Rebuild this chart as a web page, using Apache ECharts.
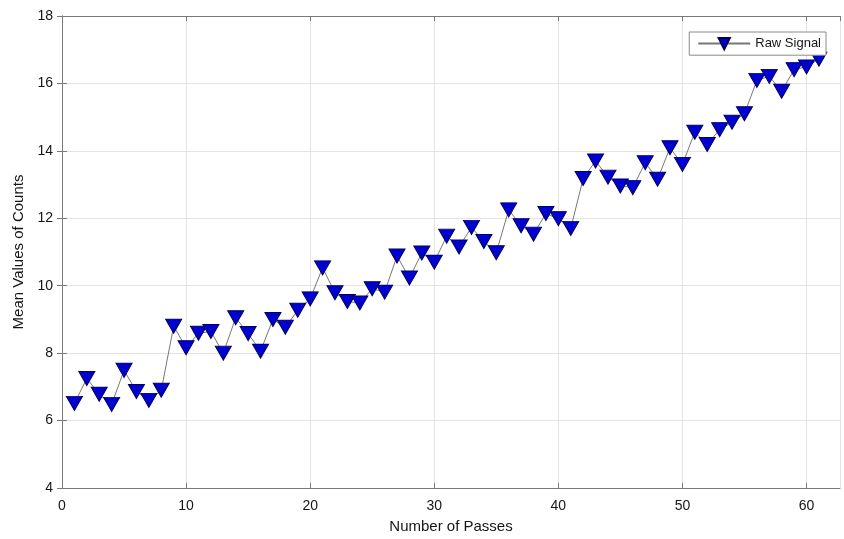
<!DOCTYPE html>
<html>
<head>
<meta charset="utf-8">
<script src="https://cdn.jsdelivr.net/npm/echarts@6/dist/echarts.min.js"></script>
<style>
html,body{margin:0;padding:0;background:#fff;}
#chart{width:844px;height:539px;}
</style>
</head>
<body>
<div id="chart"></div>
<script>
const passes = [1,2,3,4,5,6,7,8,9,10,11,12,13,14,15,16,17,18,19,20,21,22,23,24,25,26,27,28,29,30,31,32,33,34,35,36,37,38,39,40,41,42,43,44,45,46,47,48,49,50,51,52,53,54,55,56,57,58,59,60,61];
const rawSignal = [6.51,7.25,6.78,6.48,7.49,6.86,6.6,6.9,8.8,8.16,
  8.59,8.64,8.0,9.05,8.58,8.06,9.0,8.77,9.27,9.61,
  10.53,9.79,9.53,9.49,9.91,9.81,10.88,10.23,10.97,10.7,
  11.47,11.15,11.73,11.31,10.98,12.25,11.78,11.53,12.14,11.99,
  11.7,13.18,13.7,13.22,12.96,12.91,13.65,13.16,14.09,13.6,
  14.55,14.19,14.63,14.85,15.1,16.09,16.21,15.77,16.41,16.49,16.72];
const seriesName = 'Raw Signal';
const xTitle = 'Number of Passes';
const yTitle = 'Mean Values of Counts';

const chart = echarts.init(document.getElementById('chart'), null, {renderer:'canvas'});
const font = 'Liberation Sans, Arial, sans-serif';
const frame = '#7a7a7a';
const gridCol = '#e3e3e3';
const textCol = '#151515';
const axisCommon = {
  axisLine:{show:true,lineStyle:{color:frame,width:1}},
  axisTick:{show:true,inside:true,length:5,lineStyle:{color:frame}},
};
chart.setOption({
  animation:false,
  backgroundColor:'#fff',
  grid:{left:62,right:4,top:16,bottom:49,containLabel:false},
  legend:{
    data:[seriesName],
    right:18, top:32,
    backgroundColor:'#fff',
    borderColor:'#8a8a8a', borderWidth:1, borderRadius:0,
    padding:[5,5,5,8],
    itemWidth:52, itemHeight:14, itemGap:4,
    textStyle:{fontFamily:font,fontSize:13,color:textCol}
  },
  xAxis:[{
    type:'value', min:0, max:62.7, interval:10,
    name:xTitle, nameLocation:'middle', nameGap:31,
    nameTextStyle:{fontFamily:font,fontSize:15,color:textCol},
    axisLabel:{fontFamily:font,fontSize:14,color:textCol,margin:11,showMaxLabel:false},
    splitLine:{show:true,lineStyle:{color:gridCol,width:1}},
    ...axisCommon
  },{
    type:'value', min:0, max:62.7, interval:10, position:'top',
    axisLabel:{show:false},
    splitLine:{show:false},
    ...axisCommon
  }],
  yAxis:[{
    type:'value', min:4, max:18, interval:2,
    name:yTitle, nameLocation:'middle', nameGap:36, nameRotate:90,
    nameTextStyle:{fontFamily:font,fontSize:15,color:textCol},
    axisLabel:{fontFamily:font,fontSize:14,color:textCol,margin:9},
    splitLine:{show:true,lineStyle:{color:gridCol,width:1}},
    ...axisCommon
  },{
    type:'value', min:4, max:18, interval:2, position:'right',
    axisLabel:{show:false},
    splitLine:{show:false},
    ...axisCommon
  }],
  series:[{
    name:seriesName,
    type:'line',
    xAxisIndex:0, yAxisIndex:0,
    data:passes.map((p,i)=>[p,rawSignal[i]]),
    symbol:'triangle',
    symbolRotate:180,
    symbolSize:[16,14],
    showAllSymbol:true,
    lineStyle:{color:'#777777',width:1},
    itemStyle:{color:'#0000d2',borderColor:'#00005a',borderWidth:1}
  }]
});
</script>
</body>
</html>
